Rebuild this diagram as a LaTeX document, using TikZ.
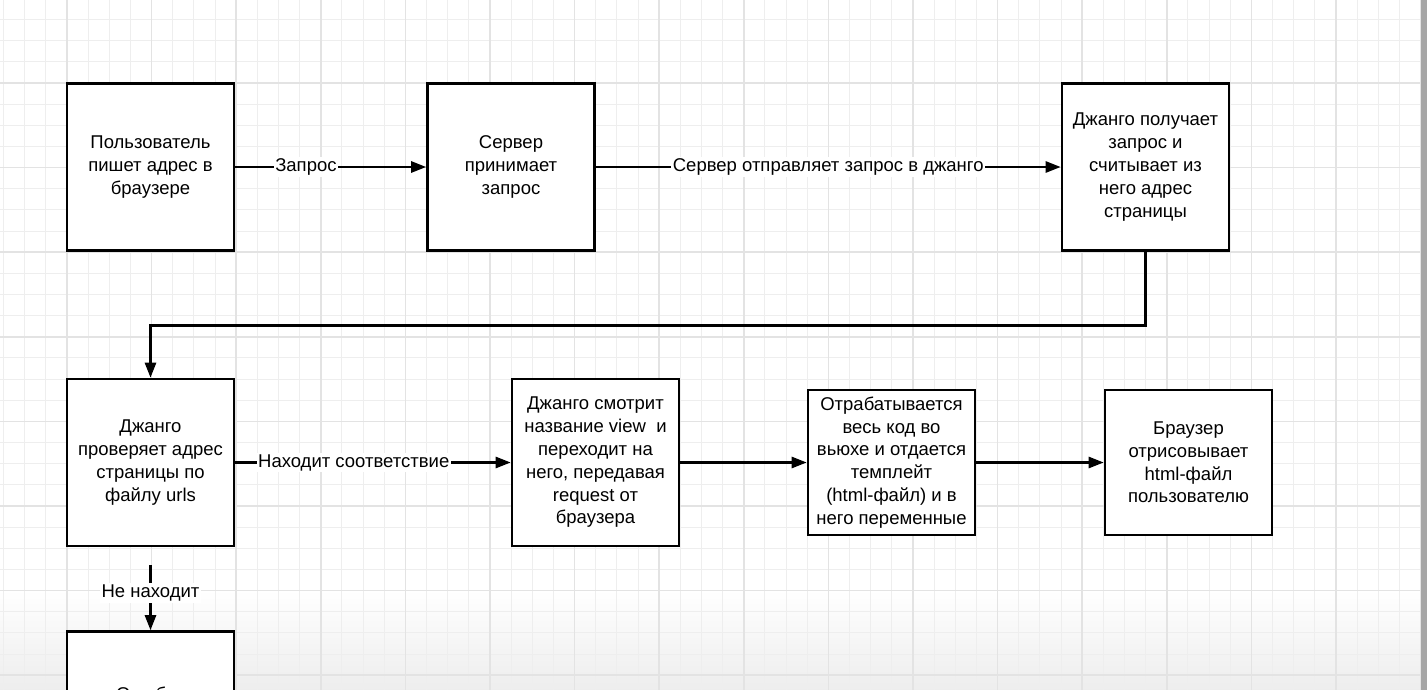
\documentclass[tikz,border=0pt]{standalone}
\usepackage{fontspec}
\setmainfont{Liberation Sans}
\usetikzlibrary{arrows.meta}
\tikzset{box/.style={draw=black, line width=2.6pt, fill=white, align=center,
   minimum width=167pt, minimum height=167pt, inner sep=0pt,
   font=\fontsize{18.5}{22.8}\selectfont},
 flat/.style={box, minimum height=145pt},
 link/.style={line width=2.6pt, -{Triangle[length=15pt,width=11pt]}},
 tag/.style={fill=white, inner sep=1.5pt, font=\fontsize{18.5}{22.8}\selectfont},
 minorline/.style={gray!13, line width=1pt},
 majorline/.style={gray!22, line width=1.6pt},
 }

\begin{document}
\begin{tikzpicture}[x=1pt, y=-1pt]
        \useasboundingbox (0,0) rectangle (1427,690);
        \clip (0,0) rectangle (1427,690);
        \fill[white] (0,0) rectangle (1427,690);
        \shade[top color=white, bottom color=gray!14] (0,590) rectangle (1427,690);
        % grid
        \foreach \k [evaluate=\k as \gx using 67+21.15*\k] in {-3,...,64}
            \draw[minorline] (\gx,0) -- (\gx,690);
        \foreach \k [evaluate=\k as \gy using 83+21.15*\k] in {-3,...,28}
            \draw[minorline] (0,\gy) -- (1420,\gy);
        \foreach \k [evaluate=\k as \gx using 67+84.6*\k] in {0,...,16}
            \draw[majorline] (\gx,0) -- (\gx,690);
        \foreach \k [evaluate=\k as \gy using 83+84.6*\k] in {0,...,7}
            \draw[majorline] (0,\gy) -- (1420,\gy);
        \fill[gray!70] (1421,0) rectangle (1427,690);

        \node[box] (user) at (150.5,167) {Пользователь\\пишет адрес в\\браузере};
        \node[box] (server) at (511,167) {Сервер\\принимает\\запрос};
        \node[box] (getreq) at (1145.5,167) {Джанго получает\\запрос и\\считывает из\\него адрес\\страницы};
        \node[box] (urls) at (150.5,462.5) {Джанго\\проверяет адрес\\страницы по\\файлу urls};
        \node[box] (view) at (595.5,462.5) {Джанго смотрит\\название view\ \ и\\переходит на\\него, передавая\\request от\\браузера};
        \node[flat] (render) at (891.5,462.5) {Отрабатывается\\весь код во\\вьюхе и отдается\\темплейт\\(html-файл) и в\\него переменные};
        \node[flat] (browser) at (1188.5,462.5) {Браузер\\отрисовывает\\html-файл\\пользователю};
        \node[box] (error) at (150.5,715) {};
        \node[font=\fontsize{18.5}{22.8}\selectfont] (errtext) at (150.5,694) {Ошибка};

        \draw[link] (user) -- node[tag, pos=0.37] {Запрос} (server);
        \draw[link] (server) -- node[tag] {Сервер отправляет запрос в джанго} (getreq);
        \draw[link] (getreq.south) -- ++(0,73.5) -| (urls.north);
        \draw[link] (urls) -- node[tag, pos=0.43] {Находит соответствие} (view);
        \draw[link] (view) -- (render);
        \draw[link] (render) -- (browser);
        \draw[link, shorten <=18pt] (urls) -- node[tag, pos=0.55] {Не находит} (error);
    \end{tikzpicture}
\end{document}
